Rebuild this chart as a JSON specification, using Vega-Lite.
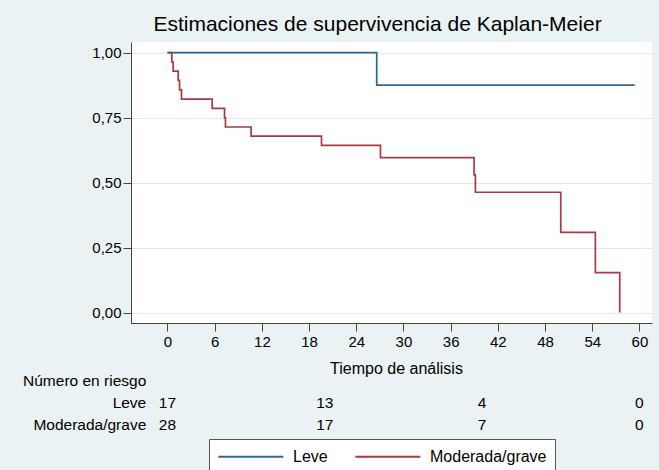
{
  "$schema": "https://vega.github.io/schema/vega-lite/v6.json",
  "autosize": {"type": "none"},
  "padding": {"left": 131, "top": 42, "right": 7, "bottom": 147},
  "width": 521,
  "height": 281,
  "background": "#eaf2f3",
  "title": {
    "text": "Estimaciones de supervivencia de Kaplan-Meier",
    "fontSize": 21,
    "fontWeight": "normal",
    "font": "Liberation Sans",
    "color": "#000000",
    "anchor": "middle",
    "frame": "group",
    "baseline": "alphabetic",
    "offset": 9,
    "dx": -14,
    "dy": 19
  },
  "datasets": {
    "km": [
      {"grupo": "Leve", "t": 0, "s": 1},
      {"grupo": "Leve", "t": 26.6, "s": 0.875},
      {"grupo": "Leve", "t": 59.4, "s": 0.875},
      {"grupo": "Moderada/grave", "t": 0, "s": 1},
      {"grupo": "Moderada/grave", "t": 0.55, "s": 0.964},
      {"grupo": "Moderada/grave", "t": 0.72, "s": 0.929},
      {"grupo": "Moderada/grave", "t": 1.36, "s": 0.893},
      {"grupo": "Moderada/grave", "t": 1.53, "s": 0.857},
      {"grupo": "Moderada/grave", "t": 1.78, "s": 0.821},
      {"grupo": "Moderada/grave", "t": 5.68, "s": 0.786},
      {"grupo": "Moderada/grave", "t": 7.25, "s": 0.75},
      {"grupo": "Moderada/grave", "t": 7.37, "s": 0.714},
      {"grupo": "Moderada/grave", "t": 10.63, "s": 0.679},
      {"grupo": "Moderada/grave", "t": 19.58, "s": 0.643},
      {"grupo": "Moderada/grave", "t": 27.08, "s": 0.596},
      {"grupo": "Moderada/grave", "t": 38.98, "s": 0.53},
      {"grupo": "Moderada/grave", "t": 39.15, "s": 0.463},
      {"grupo": "Moderada/grave", "t": 50.0, "s": 0.309},
      {"grupo": "Moderada/grave", "t": 54.4, "s": 0.154},
      {"grupo": "Moderada/grave", "t": 57.5, "s": 0}
    ],
    "riesgo": [
      {"grupo": "Leve", "t": 0, "n": 17},
      {"grupo": "Leve", "t": 20, "n": 13},
      {"grupo": "Leve", "t": 40, "n": 4},
      {"grupo": "Leve", "t": 60, "n": 0},
      {"grupo": "Moderada/grave", "t": 0, "n": 28},
      {"grupo": "Moderada/grave", "t": 20, "n": 17},
      {"grupo": "Moderada/grave", "t": 40, "n": 7},
      {"grupo": "Moderada/grave", "t": 60, "n": 0}
    ]
  },
  "layer": [
    {
      "data": {"name": "km"},
      "mark": {"type": "line", "interpolate": "step-after", "strokeWidth": 1.7},
      "encoding": {
        "x": {
          "field": "t", "type": "quantitative",
          "scale": {"domain": [-4.64, 61.6], "nice": false, "zero": false},
          "axis": {
            "values": [0, 6, 12, 18, 24, 30, 36, 42, 48, 54, 60],
            "title": "Tiempo de análisis",
            "grid": false,
            "tickSize": 8,
            "labelPadding": 3,
            "titlePadding": 11,
            "titleX": 265,
            "labelFontSize": 15,
            "titleFontSize": 16
          }
        },
        "y": {
          "field": "s", "type": "quantitative",
          "scale": {"domain": [-0.04, 1.041], "nice": false, "zero": false},
          "axis": {
            "values": [0, 0.25, 0.5, 0.75, 1],
            "labelExpr": "replace(format(datum.value, '.2f'), '.', ',')",
            "title": null,
            "grid": true,
            "tickSize": 8,
            "labelPadding": 2,
            "labelFontSize": 15
          }
        },
        "color": {
          "field": "grupo", "type": "nominal",
          "scale": {"domain": ["Leve", "Moderada/grave"], "range": ["#34658f", "#a63b45"]},
          "legend": {
            "title": null,
            "orient": "none",
            "legendX": 78,
            "legendY": 397,
            "direction": "horizontal",
            "symbolType": "M-1,0H7",
            "symbolSize": 264,
            "symbolStrokeWidth": 2,
            "labelOffset": 57,
            "columnPadding": 23,
            "padding": 8,
            "fillColor": "#ffffff",
            "strokeColor": "#555555",
            "labelFontSize": 16,
            "labelColor": "#000000",
            "labelFont": "Liberation Sans"
          }
        }
      }
    },
    {
      "data": {"name": "riesgo"},
      "transform": [{"filter": "datum.grupo === 'Leve'"}],
      "mark": {"type": "text", "align": "center", "baseline": "middle", "fontSize": 15.5, "color": "#000000"},
      "encoding": {
        "x": {"field": "t", "type": "quantitative"},
        "y": {"datum": -0.346},
        "text": {"field": "n", "type": "quantitative"}
      }
    },
    {
      "data": {"name": "riesgo"},
      "transform": [{"filter": "datum.grupo === 'Moderada/grave'"}],
      "mark": {"type": "text", "align": "center", "baseline": "middle", "fontSize": 15.5, "color": "#000000"},
      "encoding": {
        "x": {"field": "t", "type": "quantitative"},
        "y": {"datum": -0.431},
        "text": {"field": "n", "type": "quantitative"}
      }
    },
    {
      "data": {"values": [{"etiqueta": "Número en riesgo"}]},
      "mark": {"type": "text", "align": "right", "baseline": "middle", "fontSize": 15.5, "color": "#000000"},
      "encoding": {
        "x": {"datum": -2.7},
        "y": {"datum": -0.263},
        "text": {"field": "etiqueta", "type": "nominal"}
      }
    },
    {
      "data": {"values": [{"etiqueta": "Leve"}]},
      "mark": {"type": "text", "align": "right", "baseline": "middle", "fontSize": 15.5, "color": "#000000"},
      "encoding": {
        "x": {"datum": -2.7},
        "y": {"datum": -0.346},
        "text": {"field": "etiqueta", "type": "nominal"}
      }
    },
    {
      "data": {"values": [{"etiqueta": "Moderada/grave"}]},
      "mark": {"type": "text", "align": "right", "baseline": "middle", "fontSize": 15.5, "color": "#000000"},
      "encoding": {
        "x": {"datum": -2.7},
        "y": {"datum": -0.431},
        "text": {"field": "etiqueta", "type": "nominal"}
      }
    }
  ],
  "config": {
    "font": "Liberation Sans",
    "view": {"fill": "#ffffff", "stroke": null},
    "axis": {
      "domainColor": "#444444",
      "tickColor": "#444444",
      "labelColor": "#000000",
      "titleColor": "#000000",
      "titleFontWeight": "normal",
      "gridColor": "#dfe9ed",
      "gridWidth": 1,
      "labelFont": "Liberation Sans",
      "titleFont": "Liberation Sans"
    },
    "text": {"font": "Liberation Sans"}
  }
}
